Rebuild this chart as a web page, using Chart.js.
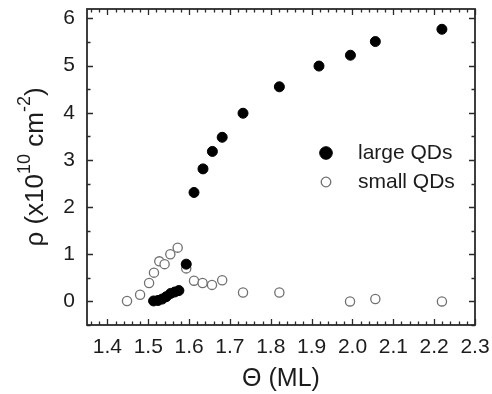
<!DOCTYPE html>
<html>
<head>
<meta charset="utf-8">
<script src="https://cdn.jsdelivr.net/npm/chart.js@4.4.1/dist/chart.umd.min.js"></script>
<style>
    html, body { margin: 0; padding: 0; background: #fff; }
    #wrap { width: 492px; height: 394px; }
</style>
</head>
<body>
<div id="wrap"><canvas id="qdChart" width="492" height="394"></canvas></div>
<script>
// QD density vs coverage

const largeTheta = [1.513, 1.524, 1.534, 1.544, 1.555, 1.565, 1.575, 1.593, 1.612, 1.634, 1.657, 1.681, 1.732, 1.821, 1.918, 1.995, 2.056, 2.219];
const largeRho   = [0.01, 0.02, 0.05, 0.10, 0.17, 0.20, 0.23, 0.79, 2.31, 2.81, 3.18, 3.48, 3.99, 4.55, 4.99, 5.22, 5.51, 5.77];

const smallTheta = [1.448, 1.480, 1.502, 1.514, 1.527, 1.540, 1.554, 1.572, 1.593, 1.612, 1.633, 1.656, 1.681, 1.732, 1.821, 1.994, 2.056, 2.219];
const smallRho   = [0.01, 0.14, 0.39, 0.61, 0.85, 0.79, 1.00, 1.14, 0.70, 0.44, 0.39, 0.35, 0.45, 0.19, 0.19, 0.00, 0.05, 0.00];

const xTicks = [1.4, 1.5, 1.6, 1.7, 1.8, 1.9, 2.0, 2.1, 2.2, 2.3];
const yTicks = [0, 1, 2, 3, 4, 5, 6];

const seriesNames = ['large QDs', 'small QDs'];

const FONT = '"Liberation Sans", Arial, sans-serif';
const INK = '#1c1c1c';

const toPoints = (xs, ys) => xs.map((x, i) => ({ x: x, y: ys[i] }));

// frame, inward ticks on all four sides, axis titles and the inset legend
const frameAndLegend = {
    id: 'frameAndLegend',
    afterDraw(chart) {
        const ctx = chart.ctx;
        const area = chart.chartArea;
        const xs = chart.scales.x;
        const ys = chart.scales.y;

        ctx.save();
        ctx.strokeStyle = '#2a2a2a';
        ctx.lineWidth = 1.3;

        // x ticks every 0.02, major every 0.1
        for (let i = 68; i <= 115; i++) {
            const v = i / 50;
            if (v < xs.min || v > xs.max + 1e-9) continue;
            const px = Math.round(xs.getPixelForValue(v)) + 0.5;
            const len = (i % 5 === 0) ? 6 : 3.5;
            ctx.beginPath();
            ctx.moveTo(px, area.bottom);
            ctx.lineTo(px, area.bottom - len);
            ctx.moveTo(px, area.top);
            ctx.lineTo(px, area.top + len);
            ctx.stroke();
        }
        // y ticks every 0.5, major every 1
        for (let i = -1; i <= 12; i++) {
            const v = i / 2;
            const py = Math.round(ys.getPixelForValue(v)) + 0.5;
            const len = (i % 2 === 0) ? 6 : 3.5;
            ctx.beginPath();
            ctx.moveTo(area.left, py);
            ctx.lineTo(area.left + len, py);
            ctx.moveTo(area.right, py);
            ctx.lineTo(area.right - len, py);
            ctx.stroke();
        }

        ctx.lineWidth = 1.8;
        ctx.strokeRect(area.left, area.top, area.right - area.left, area.bottom - area.top);

        // x title
        ctx.fillStyle = INK;
        ctx.font = '25px ' + FONT;
        ctx.textAlign = 'center';
        ctx.textBaseline = 'middle';
        ctx.fillText('\u0398 (ML)', (area.left + area.right) / 2, 379);

        // y title with superscripts, rotated
        const parts = [
            { t: '\u03c1 (x10', sup: false },
            { t: '10', sup: true },
            { t: ' cm', sup: false },
            { t: '-2', sup: true },
            { t: ')', sup: false }
        ];
        const mainFont = '26px ' + FONT;
        const supFont = '18px ' + FONT;
        let total = 0;
        parts.forEach(p => {
            ctx.font = p.sup ? supFont : mainFont;
            p.w = ctx.measureText(p.t).width;
            total += p.w;
        });
        ctx.translate(36, (area.top + area.bottom) / 2);
        ctx.rotate(-Math.PI / 2);
        ctx.textAlign = 'left';
        let cx = -total / 2;
        parts.forEach(p => {
            ctx.font = p.sup ? supFont : mainFont;
            ctx.fillText(p.t, cx, p.sup ? -11 : 0);
            cx += p.w;
        });
        ctx.setTransform(1, 0, 0, 1, 0, 0);

        // legend
        const rows = [
            { y: 153, ds: chart.data.datasets[0], r: 6.3 },
            { y: 182, ds: chart.data.datasets[1], r: 4.8 }
        ];
        rows.forEach(row => {
            ctx.beginPath();
            ctx.arc(326, row.y, row.r, 0, Math.PI * 2);
            ctx.fillStyle = row.ds.pointBackgroundColor;
            ctx.fill();
            ctx.lineWidth = row.ds.pointBorderWidth;
            ctx.strokeStyle = row.ds.pointBorderColor;
            ctx.stroke();
            ctx.fillStyle = INK;
            ctx.font = '21px ' + FONT;
            ctx.textAlign = 'left';
            ctx.textBaseline = 'middle';
            ctx.fillText(row.ds.label, 358, row.y);
        });
        ctx.restore();
    }
};

new Chart(document.getElementById('qdChart'), {
    type: 'scatter',
    data: {
        datasets: [
            {
                label: seriesNames[0],
                data: toPoints(largeTheta, largeRho),
                pointRadius: 5,
                pointBackgroundColor: '#000000',
                pointBorderColor: '#000000',
                pointBorderWidth: 1
            },
            {
                label: seriesNames[1],
                data: toPoints(smallTheta, smallRho),
                pointRadius: 4.6,
                pointBackgroundColor: '#ffffff',
                pointBorderColor: '#707070',
                pointBorderWidth: 1.3
            }
        ]
    },
    options: {
        responsive: false,
        animation: false,
        layout: { padding: { top: 9, right: 17, left: 0, bottom: 0 } },
        plugins: {
            legend: { display: false },
            tooltip: { enabled: false }
        },
        scales: {
            x: {
                type: 'linear',
                min: 1.35,
                max: 2.3,
                grid: { display: false, drawTicks: false },
                border: { display: false },
                afterBuildTicks: s => { s.ticks = xTicks.map(v => ({ value: v })); },
                afterFit: s => { s.height = 69; s.paddingLeft = 0; s.paddingRight = 0; },
                ticks: {
                    padding: 10,
                    color: INK,
                    font: { family: FONT, size: 21 },
                    maxRotation: 0,
                    autoSkip: false,
                    callback: v => v.toFixed(1)
                }
            },
            y: {
                type: 'linear',
                min: -0.5,
                max: 6.2,
                grid: { display: false, drawTicks: false },
                border: { display: false },
                afterBuildTicks: s => { s.ticks = yTicks.map(v => ({ value: v })); },
                afterFit: s => { s.width = 87; s.paddingTop = 0; s.paddingBottom = 0; },
                ticks: {
                    padding: 12,
                    color: INK,
                    font: { family: FONT, size: 21 },
                    callback: v => String(v)
                }
            }
        }
    },
    plugins: [frameAndLegend]
});
</script>
</body>
</html>
